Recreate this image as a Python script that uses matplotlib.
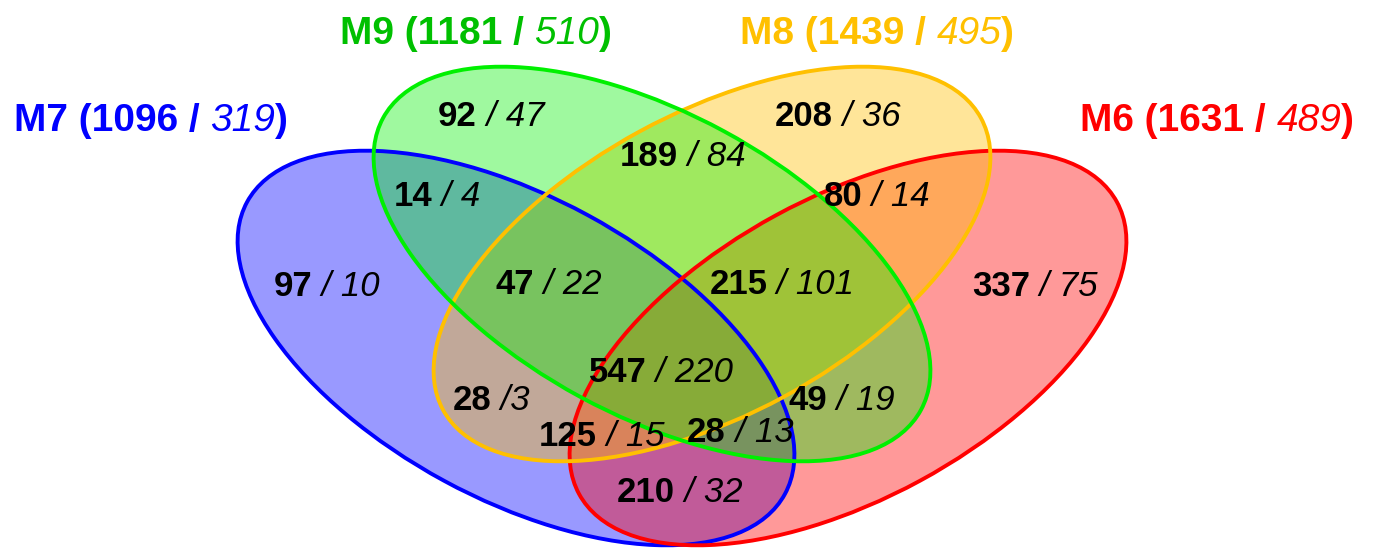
import matplotlib
matplotlib.use('agg')
import matplotlib.pyplot as plt
from matplotlib.patches import Ellipse

# sets: name, total, second count
set_names = ['M7', 'M9', 'M8', 'M6']
set_totals = [1096, 1181, 1439, 1631]
set_second = [319, 510, 495, 489]

# regions of the diagram (membership, bold count, italic count)
region_sets = ['M9', 'M8', 'M8&M9', 'M7&M9', 'M6&M8',
               'M7', 'M7&M8&M9', 'M6&M8&M9', 'M6',
               'M6&M7&M8&M9', 'M7&M8', 'M6&M9',
               'M6&M7&M8', 'M6&M7&M9', 'M6&M7']
region_counts = [92, 208, 189, 14, 80, 97, 47, 215, 337, 547, 28, 49, 125, 28, 210]
region_second = [47, 36, 84, 4, 14, 10, 22, 101, 75, 220, 3, 19, 15, 13, 32]

# layout (pixel coordinates)
ell_centers = {'M7': (516, 348), 'M9': (652, 264), 'M8': (712, 264), 'M6': (848, 348)}
ell_angles = {'M7': 28.5, 'M9': 28.5, 'M8': -28.5, 'M6': -28.5}
ell_w, ell_h = 612, 302
line_colors = {'M7': '#0000ff', 'M9': '#00f000', 'M8': '#ffc000', 'M6': '#ff0000'}
fill_alpha = {'M7': 0.4, 'M9': 0.375, 'M8': 0.4, 'M6': 0.4}
title_colors = {'M7': '#0000ff', 'M9': '#00c000', 'M8': '#ffc000', 'M6': '#ff0000'}
title_pos = {'M7': (151, 121), 'M9': (476, 34), 'M8': (877, 34), 'M6': (1217, 121)}
region_pos = [(491, 117), (838, 117), (683, 157), (437, 197), (877, 197),
              (327, 286), (549, 284), (782, 284), (1035, 286),
              (661, 373), (491, 400), (842, 400),
              (602, 436), (740, 432), (680, 493)]

FONT = ['Liberation Sans', 'DejaVu Sans']

fig = plt.figure(figsize=(13.75, 5.48), dpi=100, facecolor='white')
ax = fig.add_axes([0, 0, 1, 1])
ax.set_xlim(0, 1375)
ax.set_ylim(548, 0)
ax.axis('off')

draw_order = ['M7', 'M6', 'M8', 'M9']
for name in draw_order:
    ax.add_patch(Ellipse(ell_centers[name], ell_w, ell_h, angle=ell_angles[name],
                         facecolor=line_colors[name], alpha=fill_alpha[name], edgecolor='none'))
for name in draw_order:
    ax.add_patch(Ellipse(ell_centers[name], ell_w, ell_h, angle=ell_angles[name],
                         facecolor='none', edgecolor=line_colors[name], linewidth=2.8))

renderer = fig.canvas.get_renderer()


def pieces_text(x, y, pieces, size, color):
    # pieces: list of (text, weight, style); centred on x
    texts = []
    for s, weight, style in pieces:
        t = ax.text(x, y, s, fontsize=size, fontweight=weight, fontstyle=style,
                    color=color, family=FONT, ha='left', va='center')
        texts.append(t)
    widths = [t.get_window_extent(renderer).width for t in texts]
    cur = x - sum(widths) / 2
    for t, w in zip(texts, widths):
        t.set_x(cur)
        cur += w


for name, tot, sec in zip(set_names, set_totals, set_second):
    x, y = title_pos[name]
    pieces_text(x, y, [(f'{name} ({tot} / ', 'bold', 'normal'),
                       (str(sec), 'normal', 'italic'),
                       (')', 'bold', 'normal')], 28, title_colors[name])

for (x, y), c, s in zip(region_pos, region_counts, region_second):
    sep = ' /' if (c, s) == (28, 3) else ' / '
    pieces_text(x, y, [(str(c), 'bold', 'normal'),
                       (sep + str(s), 'normal', 'italic')], 25, 'black')

fig.savefig('out.png', dpi=100, facecolor='white')
